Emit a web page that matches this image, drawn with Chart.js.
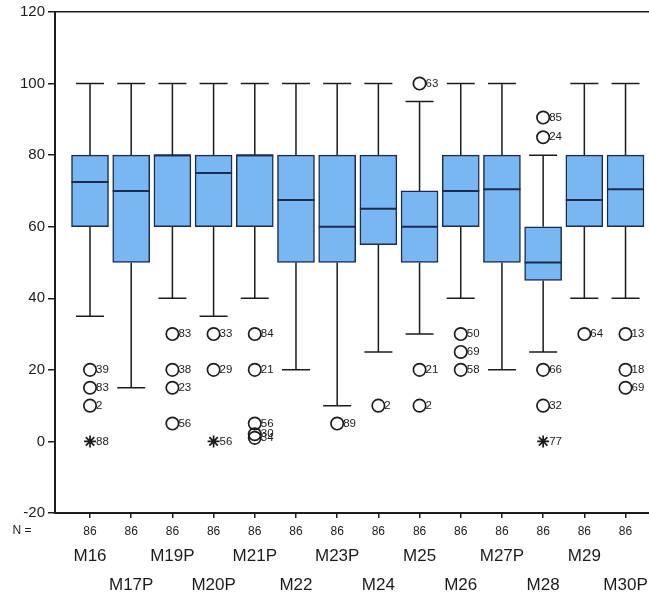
<!DOCTYPE html>
<html>
<head>
<meta charset="utf-8">
<script src="https://cdn.jsdelivr.net/npm/chart.js@4/dist/chart.umd.min.js"></script>
<style>
    html, body { margin: 0; padding: 0; background: #fff; }
    #wrap { width: 649px; height: 599px; position: relative; }
</style>
</head>
<body>
<div id="wrap"><canvas id="boxChart"></canvas></div>
<script>
const categories = ['M16', 'M17P', 'M19P', 'M20P', 'M21P', 'M22', 'M23P', 'M24', 'M25', 'M26', 'M27P', 'M28', 'M29', 'M30P'];
const nValues = [86, 86, 86, 86, 86, 86, 86, 86, 86, 86, 86, 86, 86, 86];

const whiskerLow = [35, 15, 40, 35, 40, 20, 10, 25, 30, 40, 20, 25, 40, 40];
const quartile1 = [60, 50, 60, 60, 60, 50, 50, 55, 50, 60, 50, 45, 60, 60];
const medians = [72.5, 70, 80, 75, 80, 67.5, 60, 65, 60, 70, 70.5, 50, 67.5, 70.5];
const quartile3 = [80, 80, 80, 80, 80, 80, 80, 80, 70, 80, 80, 60, 80, 80];
const whiskerHigh = [100, 100, 100, 100, 100, 100, 100, 100, 95, 100, 100, 80, 100, 100];

// outliers (circles): category index, value, case number
const outlierCats = [0, 0, 0, 2, 2, 2, 2, 3, 3, 4, 4, 4, 4, 4, 6, 7, 8, 8, 8, 9, 9, 9, 11, 11, 11, 11, 12, 13, 13, 13];
const outlierValues = [20, 15, 10, 30, 20, 15, 5, 30, 20, 30, 20, 5, 2, 1, 5, 10, 100, 20, 10, 30, 25, 20, 90.5, 85, 20, 10, 30, 30, 20, 15];
const outlierIds = ['39', '83', '2', '83', '38', '23', '56', '33', '29', '84', '21', '56', '30', '34', '89', '2', '63', '21', '2', '50', '69', '58', '85', '24', '66', '32', '64', '13', '18', '69'];

// extremes (stars)
const extremeCats = [0, 3, 11];
const extremeValues = [0, 0, 0];
const extremeIds = ['88', '56', '77'];

const yTicks = [-20, 0, 20, 40, 60, 80, 100, 120];

const FONT = '"Liberation Sans", Arial, sans-serif';
const INK = '#1c1c1c';
const BOX_LINE = '#1d2b50';

function categoryTicks(axis) {
    axis.ticks = categories.map((c, i) => ({ value: i }));
}

function noSidePadding(scale, height) {
    scale.height = height;
    scale.paddingLeft = 0;
    scale.paddingRight = 0;
}

const boxParts = {
    id: 'boxParts',
    beforeDatasetsDraw(chart) {
        const ctx = chart.ctx;
        const x = chart.scales.x;
        const y = chart.scales.y;
        ctx.save();
        ctx.strokeStyle = INK;
        ctx.lineWidth = 1.5;
        categories.forEach((c, i) => {
            const px = x.getPixelForValue(i);
            const hw = 14;
            ctx.beginPath();
            ctx.moveTo(px, y.getPixelForValue(quartile3[i]));
            ctx.lineTo(px, y.getPixelForValue(whiskerHigh[i]));
            ctx.moveTo(px - hw, y.getPixelForValue(whiskerHigh[i]));
            ctx.lineTo(px + hw, y.getPixelForValue(whiskerHigh[i]));
            ctx.moveTo(px, y.getPixelForValue(quartile1[i]));
            ctx.lineTo(px, y.getPixelForValue(whiskerLow[i]));
            ctx.moveTo(px - hw, y.getPixelForValue(whiskerLow[i]));
            ctx.lineTo(px + hw, y.getPixelForValue(whiskerLow[i]));
            ctx.stroke();
        });
        ctx.restore();
    },
    afterDatasetsDraw(chart) {
        const ctx = chart.ctx;
        const x = chart.scales.x;
        const y = chart.scales.y;
        const bar = chart.getDatasetMeta(0).data[0];
        const half = bar ? bar.width / 2 : 18;
        ctx.save();

        // medians
        ctx.strokeStyle = BOX_LINE;
        ctx.lineWidth = 2;
        categories.forEach((c, i) => {
            const px = x.getPixelForValue(i);
            const py = y.getPixelForValue(medians[i]);
            ctx.beginPath();
            ctx.moveTo(px - half, py);
            ctx.lineTo(px + half, py);
            ctx.stroke();
        });

        // case numbers
        ctx.fillStyle = INK;
        ctx.font = '11.5px ' + FONT;
        ctx.textBaseline = 'middle';
        ctx.textAlign = 'left';
        outlierIds.forEach((id, k) => {
            ctx.fillText(id, x.getPixelForValue(outlierCats[k]) + 6, y.getPixelForValue(outlierValues[k]));
        });
        extremeIds.forEach((id, k) => {
            ctx.fillText(id, x.getPixelForValue(extremeCats[k]) + 6, y.getPixelForValue(extremeValues[k]));
        });

        // N label
        ctx.font = '12px ' + FONT;
        ctx.textAlign = 'center';
        ctx.textBaseline = 'middle';
        ctx.fillText('N =', 22, x.top + 18);

        ctx.restore();
    }
};

const canvas = document.getElementById('boxChart');
const ctx = canvas.getContext('2d');

new Chart(ctx, {
    type: 'bar',
    data: {
        datasets: [{
            label: 'box',
            data: categories.map((c, i) => ({ x: i, y: [quartile1[i], quartile3[i]] })),
            backgroundColor: '#79b7f3',
            borderColor: BOX_LINE,
            borderWidth: 1.5,
            borderSkipped: false,
            barThickness: 37
        }, {
            type: 'scatter',
            label: 'outliers',
            data: outlierValues.map((v, k) => ({ x: outlierCats[k], y: v })),
            pointStyle: 'circle',
            pointRadius: 6.2,
            backgroundColor: 'rgba(255,255,255,0)',
            borderColor: INK,
            borderWidth: 1.7
        }, {
            type: 'scatter',
            label: 'extremes',
            data: extremeValues.map((v, k) => ({ x: extremeCats[k], y: v })),
            pointStyle: 'star',
            pointRadius: 6,
            borderColor: INK,
            borderWidth: 1.7
        }]
    },
    options: {
        responsive: true,
        maintainAspectRatio: false,
        animation: false,
        layout: {
            autoPadding: false,
            padding: { top: 12, right: 0, left: 0, bottom: 0 }
        },
        plugins: {
            legend: { display: false },
            tooltip: { enabled: false }
        },
        scales: {
            x: {
                type: 'linear',
                position: 'bottom',
                offset: false,
                weight: 0,
                min: -0.85,
                max: 13.57,
                afterBuildTicks: categoryTicks,
                afterFit(scale) { noSidePadding(scale, 28); },
                border: { display: true, color: INK, width: 2 },
                grid: { offset: false, drawOnChartArea: false, color: INK, tickLength: 5, lineWidth: 1.5 },
                ticks: {
                    padding: 6,
                    autoSkip: false,
                    maxRotation: 0,
                    color: INK,
                    font: { family: FONT, size: 12 },
                    callback: (v) => nValues[v]
                }
            },
            x2: {
                type: 'linear',
                position: 'bottom',
                offset: false,
                weight: 1,
                min: -0.85,
                max: 13.57,
                afterBuildTicks: categoryTicks,
                afterFit(scale) { noSidePadding(scale, 58); },
                border: { display: false },
                grid: { offset: false, display: false, drawTicks: false },
                ticks: {
                    padding: 0,
                    autoSkip: false,
                    maxRotation: 0,
                    color: INK,
                    font: { family: FONT, size: 17, lineHeight: 1.75 },
                    callback: (v) => v % 2 === 0 ? categories[v] : [' ', categories[v]]
                }
            },
            y: {
                min: -20,
                max: 120,
                afterBuildTicks(axis) { axis.ticks = yTicks.map(v => ({ value: v })); },
                afterFit(scale) { scale.width = 55; },
                border: { display: true, color: INK, width: 2 },
                grid: {
                    color: (c) => c.tick && c.tick.value === 120 ? INK : 'rgba(0,0,0,0)',
                    tickColor: INK,
                    tickLength: 7,
                    lineWidth: 1.5
                },
                ticks: {
                    padding: 3,
                    color: INK,
                    font: { family: FONT, size: 15 }
                }
            }
        }
    },
    plugins: [boxParts]
});
</script>
</body>
</html>
